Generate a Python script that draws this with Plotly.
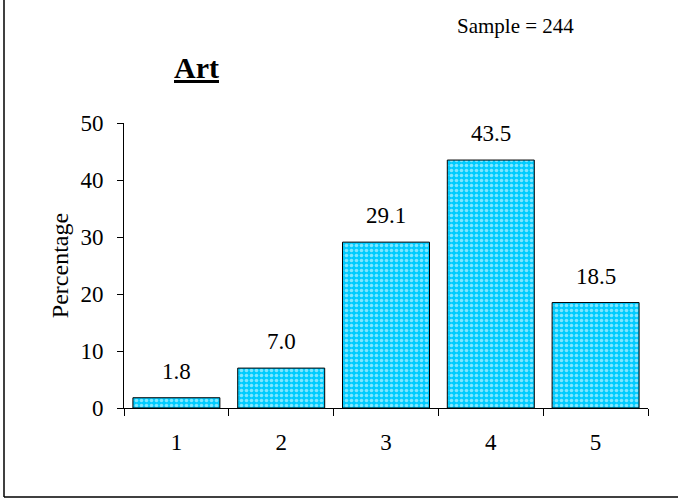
import plotly.graph_objects as go

categories = ["1", "2", "3", "4", "5"]
values = [1.8, 7.0, 29.1, 43.5, 18.5]
labels = ["1.8", "7.0", "29.1", "43.5", "18.5"]
y_ticks = [0, 10, 20, 30, 40, 50]

FONT = "Liberation Serif, Times New Roman, serif"

fig = go.Figure()
fig.add_trace(go.Bar(
    x=categories, y=values,
    marker=dict(
        color="#00CCFF",
        line=dict(color="black", width=1),
        pattern=dict(shape=".", fgcolor="white", bgcolor="#00CCFF", size=5, solidity=0.4),
    ),
    width=0.83,
    showlegend=False,
    hoverinfo="skip",
))

for i, (v, t) in enumerate(zip(values, labels)):
    fig.add_annotation(x=i, y=v, text=t, showarrow=False, yanchor="bottom", yshift=12,
                       font=dict(family=FONT, size=23, color="black"))

fig.add_annotation(xref="paper", yref="paper", x=0.1375, y=1.13, text="<b><u>Art</u></b>",
                   showarrow=False, xanchor="center", yanchor="bottom",
                   font=dict(family=FONT, size=30, color="black"))
fig.add_annotation(xref="paper", yref="paper", x=0.748, y=1.29, text="Sample = 244",
                   showarrow=False, xanchor="center", yanchor="bottom",
                   font=dict(family=FONT, size=21, color="black"))

# outer frame lines (left and bottom)
L, R, T, B = 124, 30, 123, 94
W, H = 678, 502
pw, ph = W - L - R, H - T - B
fig.add_shape(type="line", xref="paper", yref="paper",
              x0=(4 - L) / pw, x1=(4 - L) / pw, y0=(H - B) / ph, y1=-(497 - (H - B)) / ph,
              line=dict(color="black", width=1.5))
fig.add_shape(type="line", xref="paper", yref="paper",
              x0=(4 - L) / pw, x1=(W - L) / pw, y0=-(497 - (H - B)) / ph, y1=-(497 - (H - B)) / ph,
              line=dict(color="black", width=1.5))

fig.update_layout(
    width=W, height=H,
    margin=dict(l=L, r=R, t=T, b=B),
    paper_bgcolor="white", plot_bgcolor="white",
    font=dict(family=FONT, size=23, color="black"),
    xaxis=dict(type="category", tickson="boundaries", ticks="outside", ticklen=7,
               tickcolor="black", showline=True, linecolor="black", linewidth=1,
               showgrid=False, tickfont=dict(family=FONT, size=23), range=[-0.5, 4.5],
               ticklabelstandoff=13),
    yaxis=dict(range=[0, 50], tickvals=y_ticks, ticks="outside", ticklen=6,
               tickcolor="black", showline=True, linecolor="black", linewidth=1,
               showgrid=False, zeroline=False, tickfont=dict(family=FONT, size=23),
               ticklabelstandoff=9,
               title=dict(text="Percentage", font=dict(family=FONT, size=24), standoff=5)),
)

fig.write_html("out.html", config={"displayModeBar": False},
               post_script="document.body.style.margin='0';")
